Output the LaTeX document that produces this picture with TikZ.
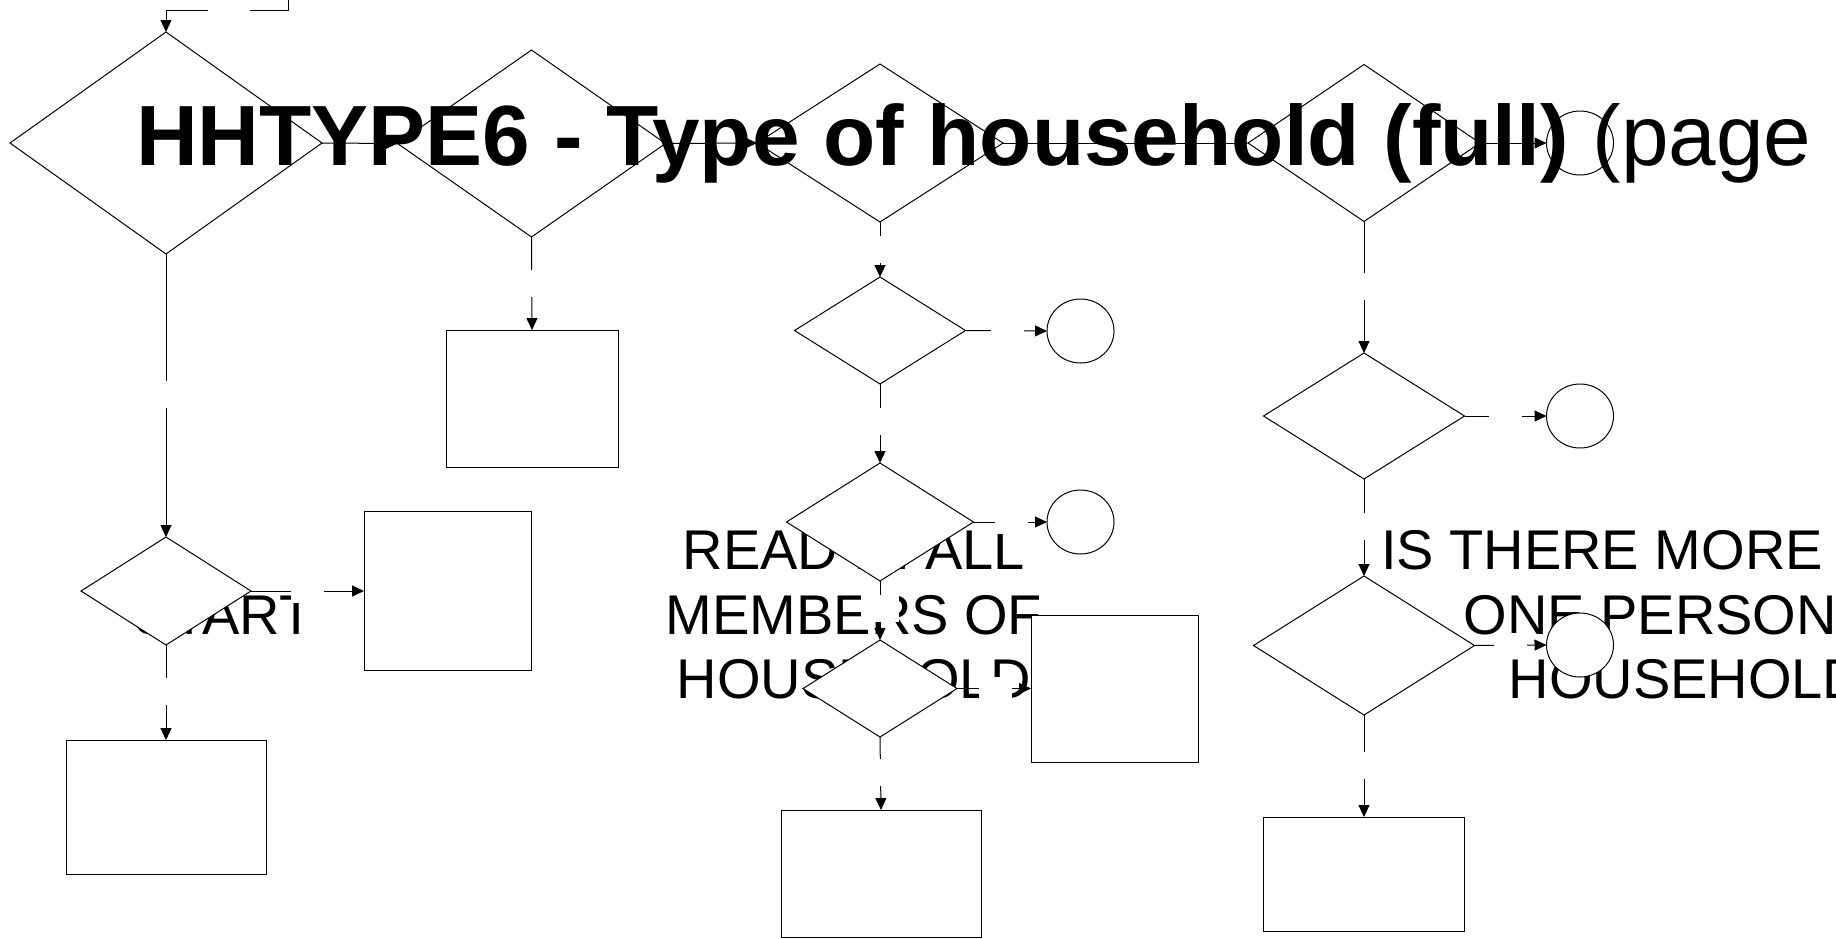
\documentclass[tikz,border=0pt]{standalone}
\usepackage{fontspec}
\setmainfont{Liberation Sans}
\usetikzlibrary{arrows.meta,shapes.geometric}
\begin{document}
\begin{tikzpicture}[x=1pt,y=-1pt,
  every node/.style={inner sep=0pt, outer sep=0pt},
  dia/.style={draw=black, fill=white, diamond, line width=1pt},
  box/.style={draw=black, fill=white, rectangle, line width=1pt},
  term/.style={draw=black, fill=white, ellipse, minimum width=67pt, minimum height=64pt, line width=1pt},
  conn/.style={line width=1pt, -{Triangle[length=12pt,width=11pt]}},
  gapv/.style={fill=white, minimum width=38pt, minimum height=27pt},
  gaph/.style={fill=white, minimum width=33pt, minimum height=24pt},
  gapt/.style={fill=white, minimum width=42pt, minimum height=16pt},
  lbl/.style={font=\fontsize{56}{64.5}\selectfont, align=center},
  ttl/.style={font=\fontsize{85.5}{98}\selectfont}
]
\useasboundingbox (0,0) rectangle (1836,938);

% labels (lying under the shapes)
\node[lbl, anchor=base] (start) at (224,634) {START};
\node[lbl] (readin) at (854,615) {READ IN ALL\\MEMBERS OF\\HOUSEHOLD};
\node[lbl] (more) at (1686,615) {IS THERE MORE THAN\\ONE PERSON IN\\HOUSEHOLD};

% top row
\node[dia, minimum width=312pt, minimum height=222pt] (d1) at (166,143) {};
\node[dia, minimum width=268pt, minimum height=187pt] (d2) at (531.5,143.5) {};
\node[dia, minimum width=246pt, minimum height=158pt] (d3) at (880,143) {};
\node[dia, minimum width=232pt, minimum height=157pt] (d4) at (1364,143) {};
\node[term] (c0) at (1580,143) {};

% left column
\node[dia, minimum width=170pt, minimum height=108pt] (d6) at (166,591) {};
\node[box, minimum width=167pt, minimum height=159pt] (b3) at (447.5,591) {};
\node[box, minimum width=200pt, minimum height=134pt] (b2) at (166,807) {};
\node[box, minimum width=172pt, minimum height=137pt] (b1) at (532,398.5) {};

% middle column
\node[dia, minimum width=171pt, minimum height=107pt] (d7) at (880,330.5) {};
\node[term] (c1) at (1080.5,331) {};
\node[dia, minimum width=187pt, minimum height=118pt] (d8) at (880,522) {};
\node[term] (c2) at (1080.5,522) {};
\node[dia, minimum width=154pt, minimum height=97pt] (d9) at (880,688.5) {};
\node[box, minimum width=167pt, minimum height=147pt] (b4) at (1114.5,688.5) {};
\node[box, minimum width=200pt, minimum height=127pt] (b5) at (881,873.5) {};

% right column
\node[dia, minimum width=201pt, minimum height=126pt] (d5) at (1364,416) {};
\node[term] (c3) at (1580,416) {};
\node[dia, minimum width=221pt, minimum height=139pt] (d10) at (1364,645.5) {};
\node[term] (c4) at (1580,645) {};
\node[box, minimum width=201pt, minimum height=114pt] (b6) at (1364,874) {};

% connectors
\coordinate (topin) at (288,-2);
\coordinate (bend) at (288,10);
\draw[conn] (topin) -- (bend) -| (d1.north);
\draw[conn] (d1.east) -- (d2.west);
\draw[conn] (d2.east) -- (d3.west);
\draw[conn] (d3.east) -- (d4.west);
\draw[conn] (d4.east) -- (c0.west);
\draw[conn] (d1.south) -- (d6.north);
\draw[conn] (d6.east) -- (b3.west);
\draw[conn] (d6.south) -- (b2.north);
\draw[conn] (d2.south) -- (b1.north);
\draw[conn] (d3.south) -- (d7.north);
\draw[conn] (d7.east) -- (c1.west);
\draw[conn] (d7.south) -- (d8.north);
\draw[conn] (d8.east) -- (c2.west);
\draw[conn] (d8.south) -- (d9.north);
\draw[conn] (d9.east) -- (b4.west);
\draw[conn] (d9.south) -- (b5.north);
\draw[conn] (d4.south) -- (d5.north);
\draw[conn] (d5.east) -- (c3.west);
\draw[conn] (d5.south) -- (d10.north);
\draw[conn] (d10.east) -- (c4.west);
\draw[conn] (d10.south) -- (b6.north);

% empty label gaps on the connectors
\node[gapt] (g0) at (229,10) {};
\node[gapv] (g1) at (166,394) {};
\node[gaph] (g2) at (307.5,591) {};
\node[gapv] (g3) at (166,691.5) {};
\node[gapv] (g4) at (532,283) {};
\node[gapv] (g5) at (880,249.5) {};
\node[gaph] (g6) at (1007,331) {};
\node[gapv] (g7) at (880,421.5) {};
\node[gaph] (g8) at (1011.5,522) {};
\node[gapv] (g9) at (880,608) {};
\node[gaph] (g10) at (995,688.5) {};
\node[gapv] (g11) at (880,772.5) {};
\node[gapv] (g12) at (1364,286) {};
\node[gaph] (g13) at (1505.5,416) {};
\node[gapv] (g14) at (1364,526.5) {};
\node[gaph] (g15) at (1510.5,645) {};
\node[gapv] (g16) at (1364,765) {};

% title on top
\node[ttl, anchor=base west] (title) at (136,165) {\textbf{HHTYPE6 - Type of household (full)} (page};
\end{tikzpicture}
\end{document}
